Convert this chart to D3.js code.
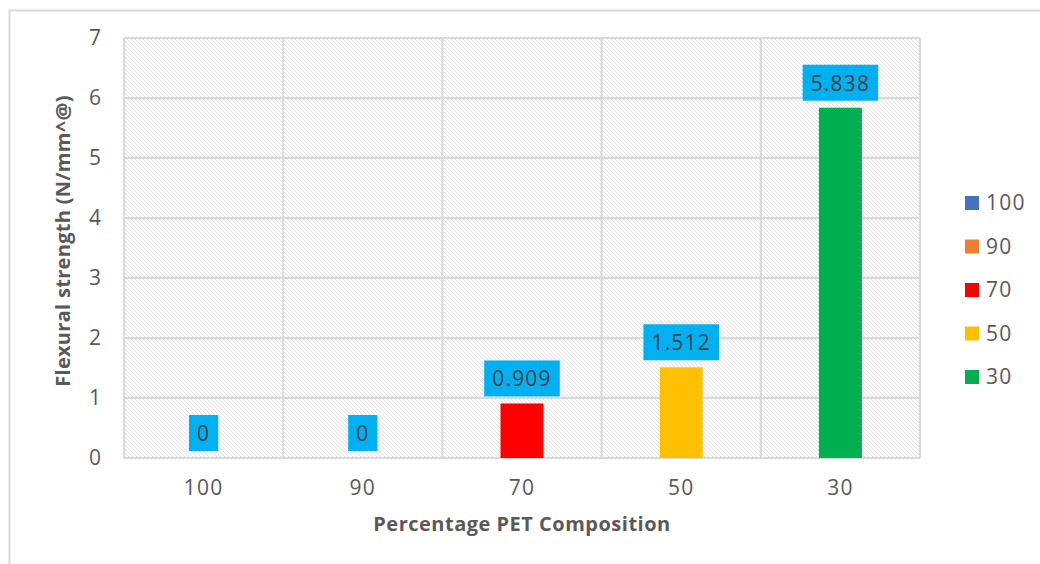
<!DOCTYPE html>
<html><head><meta charset="utf-8">
<script src="https://cdn.jsdelivr.net/npm/d3@7"></script>
<style>body{margin:0;background:#fff}svg{display:block}</style>
</head><body>
<svg id="c" width="1040" height="564"></svg>
<script>
const categories = ["100","90","70","50","30"];
const values = [0, 0, 0.909, 1.512, 5.838];
const colors = ["#4472C4","#ED7D31","#FF0000","#FFC000","#00B050"];
const yTicks = [0,1,2,3,4,5,6,7];
const yTitle = "Flexural strength (N/mm^@)";
const xTitle = "Percentage PET Composition";

const svg = d3.select("#c");
const font = "'Open Sans', 'Liberation Sans', sans-serif";
const grey = "#595959";
const m = {left:124, right:920, top:38, bottom:458};
const fs = 21, ls = "1.2px";

const defs = svg.append("defs");
const pat = defs.append("pattern").attr("id","hatch").attr("patternUnits","userSpaceOnUse")
  .attr("width",4).attr("height",4);
pat.append("rect").attr("width",4).attr("height",4).attr("fill","#fff");
pat.append("path").attr("d","M-1,-1 L5,5 M-1,3 L1,5 M3,-1 L5,1").attr("stroke","#e2e2e2").attr("stroke-width",1);

// outer chart border
svg.append("rect").attr("x",9.5).attr("y",10.5).attr("width",1100).attr("height",700)
  .attr("fill","#fff").attr("stroke","#d9d9d9").attr("stroke-width",2);

const x = d3.scaleBand().domain(categories).range([m.left, m.right]).paddingInner(0).paddingOuter(0);
const y = d3.scaleLinear().domain([0,7]).range([m.bottom, m.top]);

// plot area
svg.append("rect").attr("x",m.left).attr("y",m.top).attr("width",m.right-m.left).attr("height",m.bottom-m.top)
  .attr("fill","url(#hatch)");

// horizontal gridlines
svg.append("g").selectAll("line").data(yTicks).join("line")
  .attr("x1",m.left).attr("x2",m.right).attr("y1",d=>y(d)).attr("y2",d=>y(d))
  .attr("stroke","#d9d9d9").attr("stroke-width",2);
// vertical gridlines at band boundaries
const bounds = categories.map(c=>x(c)).concat([m.right]);
svg.append("g").selectAll("line").data(bounds).join("line")
  .attr("x1",d=>d).attr("x2",d=>d).attr("y1",m.top).attr("y2",m.bottom)
  .attr("stroke","#d9d9d9").attr("stroke-width",2);

// y axis labels
const yAxis = d3.axisLeft(y).tickValues(yTicks).tickSize(0).tickPadding(0).tickFormat(d3.format("d"));
const ga = svg.append("g").attr("transform",`translate(101,0)`).call(yAxis);
ga.select(".domain").remove();
ga.selectAll("text").attr("font-family",font).attr("font-size",fs).attr("fill",grey).attr("dy","0.3em");

// x axis labels
const xAxis = d3.axisBottom(x).tickSize(0).tickPadding(0);
const gx = svg.append("g").attr("transform",`translate(0,480)`).call(xAxis);
gx.select(".domain").remove();
gx.selectAll("text").attr("font-family",font).attr("font-size",fs).attr("letter-spacing",ls).attr("fill",grey).attr("dy","0.71em");

// bars
const bw = 43;
const data = categories.map((c,i)=>({c, v:values[i], col:colors[i]}));
svg.append("g").selectAll("rect").data(data).join("rect")
  .attr("x",d=>x(d.c)+x.bandwidth()/2-bw/2).attr("width",bw)
  .attr("y",d=>y(d.v)).attr("height",d=>y(0)-y(d.v)).attr("fill",d=>d.col);

// labels
const lg = svg.append("g").selectAll("g").data(data).join("g")
  .attr("transform",d=>`translate(${x(d.c)+x.bandwidth()/2},${y(d.v)-7})`);
lg.each(function(d){
  const g = d3.select(this);
  const t = g.append("text").text(d3.format(d.v===0?"d":".3f")(d.v))
    .attr("font-family",font).attr("font-size",fs).attr("letter-spacing",ls).attr("fill","#404040")
    .attr("text-anchor","middle").attr("y",-10);
  const w = t.node().getComputedTextLength();
  g.insert("rect","text").attr("x",-w/2-8).attr("y",-36).attr("width",w+16).attr("height",36).attr("fill","#00B0F0");
});

// axis titles
svg.append("text").attr("transform","translate(70,241) rotate(-90)").attr("text-anchor","middle")
  .attr("font-family",font).attr("font-size",20).attr("letter-spacing","0.3px").attr("font-weight","bold").attr("fill",grey).text(yTitle);
svg.append("text").attr("x",522).attr("y",531).attr("text-anchor","middle")
  .attr("font-family",font).attr("font-size",20).attr("letter-spacing","0.5px").attr("font-weight","bold").attr("fill",grey).text(xTitle);

// legend
const leg = svg.append("g").selectAll("g").data(data).join("g")
  .attr("transform",(d,i)=>`translate(965,${203+i*43.5})`);
leg.append("rect").attr("x",0).attr("y",-7).attr("width",14).attr("height",14).attr("fill",d=>d.col);
leg.append("text").attr("x",21).attr("dy","0.35em").attr("font-family",font).attr("font-size",fs)
  .attr("letter-spacing",ls).attr("fill",grey).text(d=>d.c);
</script>
</body></html>
